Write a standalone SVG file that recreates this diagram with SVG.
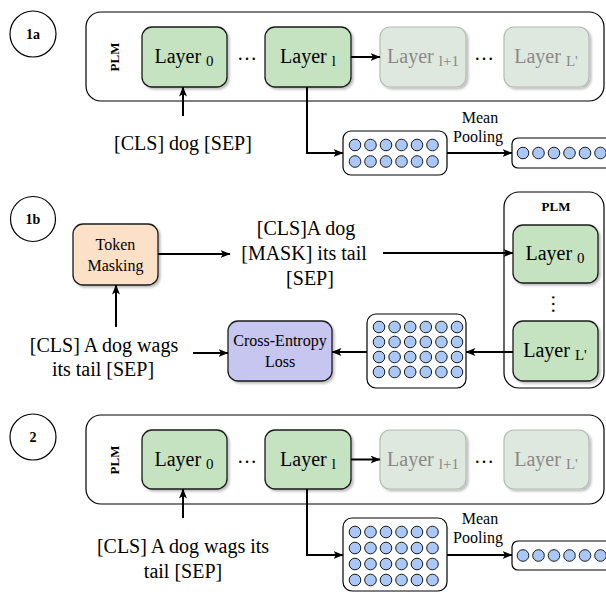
<svg xmlns="http://www.w3.org/2000/svg" width="606" height="592" viewBox="0 0 606 592" font-family="'Liberation Serif', 'DejaVu Serif', serif">
<defs>
<marker id="ah" viewBox="0 0 10 8" markerWidth="10" markerHeight="8" refX="9.5" refY="4" orient="auto" markerUnits="userSpaceOnUse">
<path d="M0,0 L10,4 L0,8 L2.5,4 z" fill="#000"/>
</marker>
<filter id="sh" x="-10%" y="-10%" width="130%" height="130%">
<feDropShadow dx="2" dy="2" stdDeviation="1.2" flood-color="#000" flood-opacity="0.25"/>
</filter>
</defs>
<style>
text{font-family:'Liberation Serif','DejaVu Serif',serif;fill:#000}
.big{font-size:20px}
.mid{font-size:16px}
.bold{font-weight:bold;font-size:13px}
.lab{font-weight:bold;font-size:14px}
.grey{fill:#888}
.circ{fill:#fff;stroke:#000;stroke-width:1.2}
.plm{fill:#fff;stroke:#000;stroke-width:1.2}
.layer{fill:#c5e3c1;stroke:#1a1a1a;stroke-width:1.3;filter:url(#sh)}
.layerl{fill:#dfe8de;stroke:#b3bcb2;stroke-width:1.2;filter:url(#sh)}
.mat{fill:#fff;stroke:#000;stroke-width:1.2}
.dot{fill:#a9c8f7;stroke:#1a1a1a;stroke-width:1}
.conn{fill:none;stroke:#000;stroke-width:2;marker-end:url(#ah)}
</style>

<!-- Section 1a -->
<g id="label-1a"><circle class="circ" cx="33" cy="34" r="23"/><text class="lab" x="33" y="39" text-anchor="middle">1a</text></g>
<g id="plm-1a"><rect class="plm" x="86" y="12" width="518" height="89" rx="15"/><text class="bold" transform="translate(119,57) rotate(-90)" text-anchor="middle">PLM</text></g>
<g id="layer0-1a"><rect class="layer" x="142" y="27" width="85" height="60" rx="10"/><text class="big" x="184" y="63" text-anchor="middle">Layer <tspan font-size="15" dy="3">0</tspan></text></g>
<g id="dots1-1a"><text class="big" x="247" y="60" text-anchor="middle">…</text></g>
<g id="layerl-1a"><rect class="layer" x="265" y="27" width="86" height="60" rx="10"/><text class="big" x="308" y="63" text-anchor="middle">Layer <tspan font-size="15" dy="3">l</tspan></text></g>
<g id="layerl1-1a"><rect class="layerl" x="380" y="27" width="86" height="60" rx="10"/><text class="big grey" x="423" y="63" text-anchor="middle">Layer <tspan font-size="15" dy="3">l+1</tspan></text></g>
<g id="dots2-1a"><text class="big" x="484" y="60" text-anchor="middle">…</text></g>
<g id="layerL-1a"><rect class="layerl" x="504" y="27" width="85" height="60" rx="10"/><text class="big grey" x="546" y="63" text-anchor="middle">Layer <tspan font-size="15" dy="3">L'</tspan></text></g>
<g id="input-1a"><text class="big" x="183" y="150" text-anchor="middle">[CLS] dog [SEP]</text></g>
<g id="matrix-1a"><rect class="mat" x="343" y="131" width="104" height="44" rx="8"/>
<circle class="dot" cx="355" cy="145" r="5.8"/><circle class="dot" cx="370.5" cy="145" r="5.8"/><circle class="dot" cx="386" cy="145" r="5.8"/><circle class="dot" cx="401.5" cy="145" r="5.8"/><circle class="dot" cx="417" cy="145" r="5.8"/><circle class="dot" cx="432.5" cy="145" r="5.8"/>
<circle class="dot" cx="355" cy="161.5" r="5.8"/><circle class="dot" cx="370.5" cy="161.5" r="5.8"/><circle class="dot" cx="386" cy="161.5" r="5.8"/><circle class="dot" cx="401.5" cy="161.5" r="5.8"/><circle class="dot" cx="417" cy="161.5" r="5.8"/><circle class="dot" cx="432.5" cy="161.5" r="5.8"/>
</g>
<g id="pool-label-1a"><text class="mid" x="480" y="123" text-anchor="middle">Mean</text><text class="mid" x="478" y="142" text-anchor="middle">Pooling</text></g>
<g id="vector-1a"><rect class="mat" x="512" y="138" width="110" height="30" rx="6"/>
<circle class="dot" cx="523" cy="153" r="5.8"/><circle class="dot" cx="538.5" cy="153" r="5.8"/><circle class="dot" cx="554" cy="153" r="5.8"/><circle class="dot" cx="569.5" cy="153" r="5.8"/><circle class="dot" cx="585" cy="153" r="5.8"/><circle class="dot" cx="600.5" cy="153" r="5.8"/>
</g>

<!-- Section 1b -->
<g id="label-1b"><circle class="circ" cx="33" cy="219" r="22.5"/><text class="lab" x="33" y="224" text-anchor="middle">1b</text></g>
<g id="token-masking"><rect x="73" y="224" width="85" height="61" rx="10" fill="#fde1c7" stroke="#1a1a1a" stroke-width="1.3" filter="url(#sh)"/><text class="mid" x="115.5" y="250" text-anchor="middle">Token</text><text class="mid" x="115.5" y="271" text-anchor="middle">Masking</text></g>
<g id="masked-text"><text class="big" x="306" y="235" text-anchor="middle">[CLS]A dog</text><text class="big" x="304" y="260" text-anchor="middle">[MASK] its tail</text><text class="big" x="310" y="285" text-anchor="middle">[SEP]</text></g>
<g id="plm-1b"><rect class="plm" x="504" y="192" width="100" height="196" rx="15"/><text class="bold" x="556" y="211" text-anchor="middle">PLM</text></g>
<g id="layer0-1b"><rect class="layer" x="513" y="225" width="85" height="58" rx="10"/><text class="big" x="555" y="260" text-anchor="middle">Layer <tspan font-size="15" dy="3">0</tspan></text></g>
<g id="vdots-1b"><text class="big" transform="translate(552,304) rotate(90)" text-anchor="middle">…</text></g>
<g id="layerL-1b"><rect class="layer" x="513" y="321" width="85" height="60" rx="10"/><text class="big" x="555" y="357" text-anchor="middle">Layer <tspan font-size="15" dy="3">L'</tspan></text></g>
<g id="matrix-1b"><rect class="mat" x="367" y="314" width="99" height="74" rx="9"/>
<circle class="dot" cx="379" cy="327" r="5.8"/><circle class="dot" cx="394.6" cy="327" r="5.8"/><circle class="dot" cx="410.2" cy="327" r="5.8"/><circle class="dot" cx="425.8" cy="327" r="5.8"/><circle class="dot" cx="441.4" cy="327" r="5.8"/><circle class="dot" cx="457" cy="327" r="5.8"/>
<circle class="dot" cx="379" cy="342" r="5.8"/><circle class="dot" cx="394.6" cy="342" r="5.8"/><circle class="dot" cx="410.2" cy="342" r="5.8"/><circle class="dot" cx="425.8" cy="342" r="5.8"/><circle class="dot" cx="441.4" cy="342" r="5.8"/><circle class="dot" cx="457" cy="342" r="5.8"/>
<circle class="dot" cx="379" cy="357" r="5.8"/><circle class="dot" cx="394.6" cy="357" r="5.8"/><circle class="dot" cx="410.2" cy="357" r="5.8"/><circle class="dot" cx="425.8" cy="357" r="5.8"/><circle class="dot" cx="441.4" cy="357" r="5.8"/><circle class="dot" cx="457" cy="357" r="5.8"/>
<circle class="dot" cx="379" cy="372" r="5.8"/><circle class="dot" cx="394.6" cy="372" r="5.8"/><circle class="dot" cx="410.2" cy="372" r="5.8"/><circle class="dot" cx="425.8" cy="372" r="5.8"/><circle class="dot" cx="441.4" cy="372" r="5.8"/><circle class="dot" cx="457" cy="372" r="5.8"/>
</g>
<g id="cross-entropy"><rect x="228" y="321" width="104" height="60" rx="10" fill="#c6c6f1" stroke="#1a1a1a" stroke-width="1.3" filter="url(#sh)"/><text class="mid" x="280" y="346" text-anchor="middle">Cross-Entropy</text><text class="mid" x="280" y="367" text-anchor="middle">Loss</text></g>
<g id="input-1b"><text class="big" x="104" y="352" text-anchor="middle">[CLS] A dog wags</text><text class="big" x="103" y="376" text-anchor="middle">its tail [SEP]</text></g>

<!-- Section 2 -->
<g id="label-2"><circle class="circ" cx="33" cy="437" r="23"/><text class="lab" x="33" y="442" text-anchor="middle">2</text></g>
<g id="plm-2"><rect class="plm" x="86" y="415" width="518" height="89" rx="15"/><text class="bold" transform="translate(119,460) rotate(-90)" text-anchor="middle">PLM</text></g>
<g id="layer0-2"><rect class="layer" x="142" y="430" width="85" height="59" rx="10"/><text class="big" x="184" y="466" text-anchor="middle">Layer <tspan font-size="15" dy="3">0</tspan></text></g>
<g id="dots1-2"><text class="big" x="247" y="463" text-anchor="middle">…</text></g>
<g id="layerl-2"><rect class="layer" x="265" y="430" width="86" height="59" rx="10"/><text class="big" x="308" y="466" text-anchor="middle">Layer <tspan font-size="15" dy="3">l</tspan></text></g>
<g id="layerl1-2"><rect class="layerl" x="380" y="430" width="86" height="59" rx="10"/><text class="big grey" x="423" y="466" text-anchor="middle">Layer <tspan font-size="15" dy="3">l+1</tspan></text></g>
<g id="dots2-2"><text class="big" x="484" y="463" text-anchor="middle">…</text></g>
<g id="layerL-2"><rect class="layerl" x="504" y="430" width="85" height="59" rx="10"/><text class="big grey" x="546" y="466" text-anchor="middle">Layer <tspan font-size="15" dy="3">L'</tspan></text></g>
<g id="input-2"><text class="big" x="183" y="553" text-anchor="middle">[CLS] A dog wags its</text><text class="big" x="183" y="578" text-anchor="middle">tail [SEP]</text></g>
<g id="matrix-2"><rect class="mat" x="343" y="518" width="104" height="73" rx="9"/>
<circle class="dot" cx="355" cy="532" r="5.8"/><circle class="dot" cx="370.5" cy="532" r="5.8"/><circle class="dot" cx="386" cy="532" r="5.8"/><circle class="dot" cx="401.5" cy="532" r="5.8"/><circle class="dot" cx="417" cy="532" r="5.8"/><circle class="dot" cx="432.5" cy="532" r="5.8"/>
<circle class="dot" cx="355" cy="548" r="5.8"/><circle class="dot" cx="370.5" cy="548" r="5.8"/><circle class="dot" cx="386" cy="548" r="5.8"/><circle class="dot" cx="401.5" cy="548" r="5.8"/><circle class="dot" cx="417" cy="548" r="5.8"/><circle class="dot" cx="432.5" cy="548" r="5.8"/>
<circle class="dot" cx="355" cy="564" r="5.8"/><circle class="dot" cx="370.5" cy="564" r="5.8"/><circle class="dot" cx="386" cy="564" r="5.8"/><circle class="dot" cx="401.5" cy="564" r="5.8"/><circle class="dot" cx="417" cy="564" r="5.8"/><circle class="dot" cx="432.5" cy="564" r="5.8"/>
<circle class="dot" cx="355" cy="580" r="5.8"/><circle class="dot" cx="370.5" cy="580" r="5.8"/><circle class="dot" cx="386" cy="580" r="5.8"/><circle class="dot" cx="401.5" cy="580" r="5.8"/><circle class="dot" cx="417" cy="580" r="5.8"/><circle class="dot" cx="432.5" cy="580" r="5.8"/>
</g>
<g id="pool-label-2"><text class="mid" x="480" y="524" text-anchor="middle">Mean</text><text class="mid" x="478" y="543" text-anchor="middle">Pooling</text></g>
<g id="vector-2"><rect class="mat" x="512" y="541" width="110" height="29" rx="6"/>
<circle class="dot" cx="523" cy="555.5" r="5.8"/><circle class="dot" cx="538.5" cy="555.5" r="5.8"/><circle class="dot" cx="554" cy="555.5" r="5.8"/><circle class="dot" cx="569.5" cy="555.5" r="5.8"/><circle class="dot" cx="585" cy="555.5" r="5.8"/><circle class="dot" cx="600.5" cy="555.5" r="5.8"/>
</g>

<!-- Connectors -->
<g id="connectors">
<path class="conn" d="M183,116 V87"/>
<path class="conn" d="M351,57 H380"/>
<path class="conn" d="M307,87 V153 H343"/>
<path class="conn" d="M447,153 H512"/>
<path class="conn" d="M158,254 H230"/>
<path class="conn" d="M383,253 H513"/>
<path class="conn" d="M116,327 V285"/>
<path class="conn" d="M513,352 H466"/>
<path class="conn" d="M367,352 H332"/>
<path class="conn" d="M193,353 H228"/>
<path class="conn" d="M183,518 V489"/>
<path class="conn" d="M351,459.5 H380"/>
<path class="conn" d="M307,489 V555 H343"/>
<path class="conn" d="M447,555 H512"/>
</g>
</svg>
